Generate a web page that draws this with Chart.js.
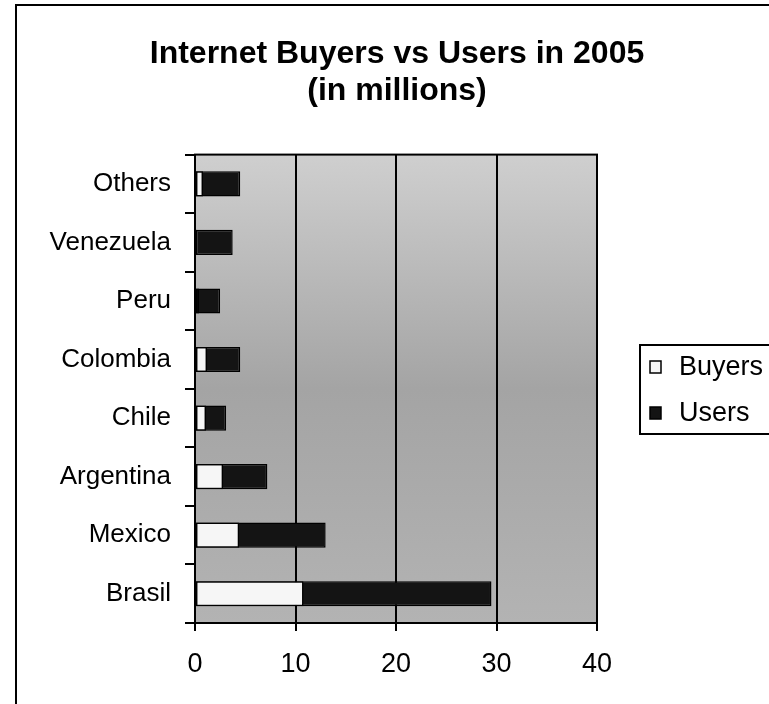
<!DOCTYPE html>
<html>
<head>
<meta charset="utf-8">
<script src="https://cdn.jsdelivr.net/npm/chart.js@4.4.1/dist/chart.umd.min.js"></script>
<style>
  html, body { margin: 0; padding: 0; background: #fff; }
  canvas { display: block; }
</style>
</head>
<body>
<canvas id="chart" width="769" height="704"></canvas>
<script>
// data, top row first
const categories = ["Others", "Venezuela", "Peru", "Colombia", "Chile", "Argentina", "Mexico", "Brasil"];
const buyers = [0.8, 0.2, 0.4, 1.2, 1.1, 2.8, 4.4, 10.8];
const users = [4.5, 3.75, 2.5, 4.5, 3.1, 7.2, 13.0, 29.5];
const seriesNames = ["Buyers", "Users"];
const titleLines = ["Internet Buyers vs Users in 2005", "(in millions)"];
const xMin = 0, xMax = 40, xStep = 10;

const FONT = "'Liberation Sans', Arial, sans-serif";

// grey plot background + frame around the plot
const plotBackground = {
  id: "plotBackground",
  beforeDraw(chart) {
    const { ctx, chartArea: a } = chart;
    ctx.save();
    const g = ctx.createLinearGradient(0, a.top, 0, a.bottom);
    g.addColorStop(0, "#cfcfcf");
    g.addColorStop(0.5, "#a4a4a4");
    g.addColorStop(1, "#b3b3b3");
    ctx.fillStyle = g;
    ctx.fillRect(a.left, a.top, a.right - a.left, a.bottom - a.top);
    ctx.restore();
  },
  afterDraw(chart) {
    const { ctx, chartArea: a } = chart;
    ctx.save();
    ctx.strokeStyle = "#000";
    ctx.lineWidth = 2;
    ctx.strokeRect(a.left, a.top, a.right - a.left, a.bottom - a.top);
    // outer chart frame
    ctx.strokeRect(16, 5, 800, 760);
    ctx.restore();
  }
};

// legend in a bordered box on the right, like the original
const boxLegend = {
  id: "boxLegend",
  afterDraw(chart) {
    const { ctx } = chart;
    ctx.save();
    ctx.strokeStyle = "#000";
    ctx.lineWidth = 2;
    ctx.strokeRect(640, 345, 160, 89);
    const metas = chart._getSortedDatasetMetas();
    metas.forEach((m, i) => {
      const ds = chart.data.datasets[m.index];
      const cy = 367 + i * 46;
      ctx.fillStyle = ds.backgroundColor;
      ctx.fillRect(650, cy - 6, 11, 12);
      ctx.lineWidth = 1.5;
      ctx.strokeRect(650, cy - 6, 11, 12);
      ctx.fillStyle = "#000";
      ctx.font = "27px " + FONT;
      ctx.textBaseline = "middle";
      ctx.fillText(ds.label, 679, cy + 1);
    });
    ctx.restore();
  }
};

new Chart(document.getElementById("chart"), {
  type: "bar",
  data: {
    labels: categories,
    datasets: [
      {
        label: seriesNames[0],
        data: buyers,
        backgroundColor: "#f6f6f6",
        borderColor: "#000",
        borderWidth: 1.5,
        borderSkipped: false,
        order: 0
      },
      {
        label: seriesNames[1],
        data: users,
        backgroundColor: "#141414",
        borderColor: "#000",
        borderWidth: 1.5,
        borderSkipped: false,
        order: 1
      }
    ]
  },
  options: {
    indexAxis: "y",
    responsive: false,
    animation: false,
    grouped: false,
    categoryPercentage: 1,
    barPercentage: 0.43,
    layout: { padding: { left: 25, right: 0, top: 0, bottom: 0 } },
    plugins: {
      legend: { display: false },
      tooltip: { enabled: false },
      title: {
        display: true,
        text: titleLines,
        color: "#000",
        font: { family: FONT, size: 32, weight: "bold", lineHeight: 1.15 },
        padding: { top: 36, bottom: 45 }
      }
    },
    scales: {
      x: {
        min: xMin,
        max: xMax,
        ticks: {
          stepSize: xStep,
          color: "#000",
          font: { family: FONT, size: 27 },
          padding: 17
        },
        grid: { color: "#000", lineWidth: 2, tickLength: 8 },
        border: { color: "#000", width: 2 },
        afterFit(s) { s.height = 81; }
      },
      y: {
        ticks: {
          color: "#000",
          font: { family: FONT, size: 26 },
          padding: 14
        },
        grid: { offset: true, drawOnChartArea: false, color: "#000", lineWidth: 2, tickLength: 10 },
        border: { color: "#000", width: 2 },
        afterFit(s) { s.width = 170; }
      },
      yRight: {
        type: "category",
        position: "right",
        grid: { display: false },
        ticks: { display: false },
        border: { display: false },
        afterFit(s) { s.width = 172; }
      }
    }
  },
  plugins: [plotBackground, boxLegend]
});
</script>
</body>
</html>
